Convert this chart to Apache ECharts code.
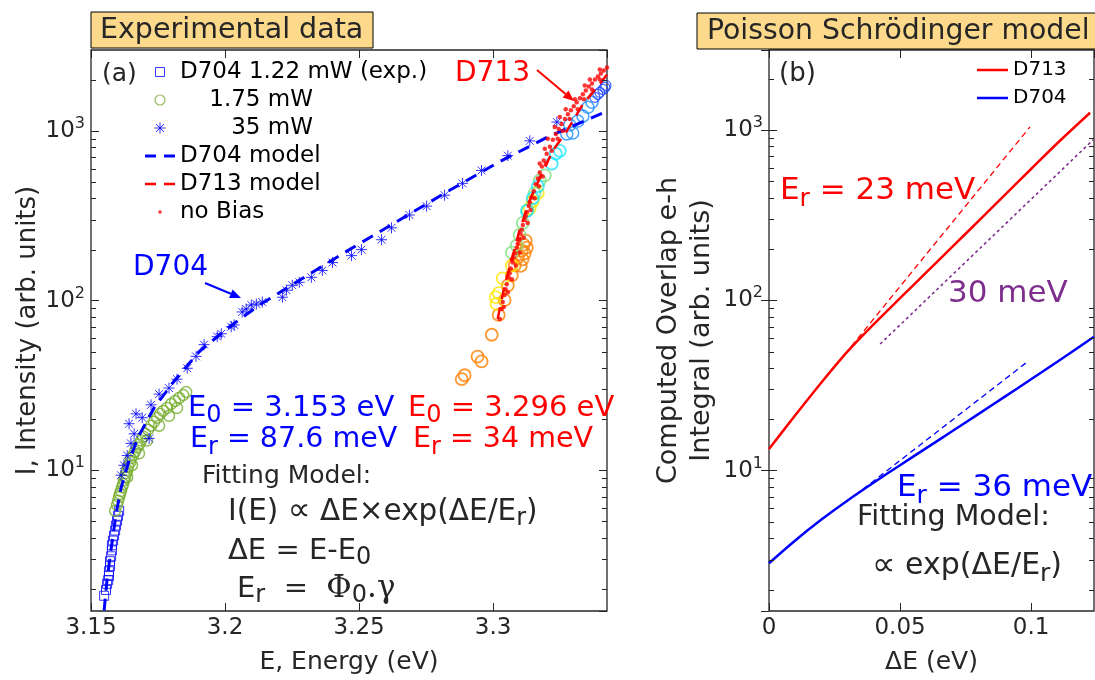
<!DOCTYPE html>
<html>
<head>
<meta charset="utf-8">
<script src="https://cdn.jsdelivr.net/npm/echarts/dist/echarts.min.js"></script>
<style>html,body{margin:0;padding:0;background:#fff}#c{width:1095px;height:680px}</style>
</head>
<body>
<div id="c"></div>
<script>
// ---------------- Panel (a): experimental data ----------------
const d704_122mW = [[3.1549,1.82],[3.1556,1.97],[3.1560,2.14],[3.1564,2.25],[3.1567,2.38],[3.1567,2.54],[3.1571,2.72],[3.1571,2.91],[3.1575,3.11],[3.1578,3.37],[3.1578,3.61],[3.1582,3.85],[3.1586,4.12],[3.1590,4.41],[3.1593,4.72],[3.1597,5.04],[3.1601,5.39],[3.1605,5.77]];
const d704_175mW = [[3.1590,5.77],[3.1597,6.25],[3.1601,6.60],[3.1605,6.96],[3.1608,7.25],[3.1612,7.54],[3.1616,7.96],[3.1620,8.29],[3.1623,8.74],[3.1627,9.10],[3.1631,9.61],[3.1635,10.0],[3.1638,10.55],[3.1646,11.13],[3.1649,11.75],[3.1657,12.23],[3.1664,12.90],[3.1672,13.62],[3.1679,14.18],[3.1687,14.96],[3.1694,15.79],[3.1702,16.43],[3.1713,17.34],[3.1724,18.30],[3.1735,19.31],[3.1747,20.37],[3.1758,21.50],[3.1769,22.38],[3.1784,23.30],[3.1799,24.59],[3.1814,25.60],[3.1829,26.65],[3.1844,27.74],[3.1855,28.89],[3.1635,9.10],[3.1653,10.7],[3.1679,12.57],[3.1709,14.96],[3.1754,18.30],[3.1791,20.93],[3.1821,23.30]];
const d704_35mW = [[3.1612,9.35],[3.1623,10.7],[3.1635,12.2],[3.1649,14.4],[3.1661,16.4],[3.1642,18.8],[3.1668,21.5],[3.1691,20.4],[3.1717,15.4],[3.1724,24.3],[3.1754,28.1],[3.1791,30.5],[3.1821,34.4],[3.1859,39.9],[3.1892,46.9],[3.1922,55.0],[3.1971,61.3],[3.1986,63.8],[3.2023,70.1],[3.2034,71.9],[3.2064,85.7],[3.2079,89.2],[3.2098,94.2],[3.2117,95.4],[3.2139,98.0],[3.2214,104.7],[3.2229,115.1],[3.2251,123.1],[3.2277,128.2],[3.2322,137.1],[3.2363,150.6],[3.2401,167.6],[3.2472,184.1],[3.2509,199.6],[3.2584,228.4],[3.2621,268.4],[3.2688,319.5],[3.2752,360.5],[3.2819,418],[3.2886,491],[3.2957,585],[3.3055,715],[3.3137,874],[3.3238,1128]];
const d704Model = [[3.1549,1.49],[3.1560,2.28],[3.1575,3.42],[3.1593,5.47],[3.1612,7.85],[3.1642,11.4],[3.1679,16.0],[3.1735,23.3],[3.1810,33.5],[3.1904,50.1],[3.2016,70.0],[3.2128,94.1],[3.2277,131.7],[3.2464,199.7],[3.2651,298.6],[3.2838,446.9],[3.3025,659.7],[3.3212,934.6],[3.3425,1308]];
const d713Model = [[3.3017,78],[3.3043,123],[3.3070,175],[3.3099,261],[3.3137,391],[3.3182,561],[3.3223,765],[3.3275,1000],[3.3335,1436],[3.3387,1806],[3.3425,2148]];
const d713NoBias = [[3.3025,78.0],[3.3032,89.2],[3.3036,98.0],[3.3043,107.7],[3.3047,116.7],[3.3051,124.8],[3.3058,137.1],[3.3062,144.7],[3.3066,154.7],[3.3073,167.7],[3.3077,179.3],[3.3081,189.2],[3.3088,205.1],[3.3092,216.4],[3.3096,231.4],[3.3103,247.5],[3.3107,261.2],[3.3111,279.3],[3.3118,298.7],[3.3122,315.2],[3.3126,332.6],[3.3133,360.6],[3.3137,380.4],[3.3144,406.8],[3.3152,440.9],[3.3159,484.3],[3.3167,525.0],[3.3174,569.1],[3.3182,616.8],[3.3189,668.5],[3.3200,734.4],[3.3212,806.7],[3.3223,886.1],[3.3234,960.5],[3.3245,1027],[3.3256,1098],[3.3268,1175],[3.3279,1256],[3.3290,1326],[3.3301,1399],[3.3312,1476],[3.3324,1557],[3.3335,1643],[3.3346,1734],[3.3357,1830],[3.3369,1905],[3.3380,2010],[3.3391,2093],[3.3402,2179],[3.3413,2268],[3.3425,2362],[3.3193,785],[3.3204,898],[3.3230,1055],[3.3249,1207],[3.3271,1343],[3.3305,1537],[3.3342,1854],[3.3361,2010],[3.3398,2299],[3.3099,228.4],[3.3070,174.6],[3.3174,642],[3.3040,91.6],[3.3055,112.1],[3.3070,133.5],[3.3085,161.1],[3.3099,191.8],[3.3114,234.6],[3.3129,286.9],[3.3140,341.7],[3.3155,401],[3.3171,472],[3.3185,539],[3.3197,642],[3.3219,764],[3.3241,898],[3.3260,1000],[3.3286,1175],[3.3316,1343],[3.3339,1537],[3.3369,1757],[3.3398,2010]];
const d713Orange = [[3.2883,34.4],[3.2894,36.3],[3.2942,46.8],[3.2957,43.8],[3.2995,62.9],[3.3021,82.3],[3.3043,100.7],[3.3055,123.1],[3.3070,140.9],[3.3081,161.1],[3.3092,179.3],[3.3107,197.0],[3.3114,213.5],[3.3122,225.4],[3.3126,205],[3.3118,190],[3.3110,175],[3.3103,160]];
const d713Yellow = [[3.3013,95.5],[3.3010,104.8],[3.3021,110.6],[3.3036,135.3],[3.3070,161],[3.3137,351],[3.3148,385],[3.3167,430]];
const d713LightGreen = [[3.3070,191.8],[3.3088,210.7],[3.3099,244.2],[3.3111,286.9],[3.3129,341.7],[3.3155,429.2],[3.3174,511],[3.3193,546.6]];
const d713Cyan = [[3.3126,337],[3.3148,401],[3.3167,472],[3.3219,642],[3.3234,734],[3.3249,764]];
const d713Blue = [[3.3275,960.5],[3.3297,973.5],[3.3286,1084],[3.3316,1144],[3.3335,1223],[3.3354,1380],[3.3369,1476]];
const d713DarkBlue = [[3.3380,1578],[3.3391,1643],[3.3398,1688],[3.3410,1757],[3.3417,1806],[3.3421,1854]];

// ---------------- Panel (b): Poisson Schrodinger model ----------------
const psD713 = [[0,13.4],[0.01,21.1],[0.02,32.9],[0.03,50.1],[0.04,72.4],[0.05,102.8],[0.06,145.5],[0.07,206.1],[0.08,292.4],[0.09,415.0],[0.10,588.8],[0.11,833.7],[0.1225,1259]];
const psD704 = [[0,2.86],[0.01,3.89],[0.02,5.16],[0.03,6.68],[0.04,8.51],[0.05,10.76],[0.06,13.55],[0.07,17.06],[0.08,21.53],[0.09,27.16],[0.10,34.36],[0.11,43.55],[0.124,61.0]];
const psFit23 = [[0.029,48.3],[0.0996,1041]];
const psFit30 = [[0.0424,55.3],[0.1237,874]];
const psFit36 = [[0.0328,7.15],[0.0985,43.4]];

// ---------------- axes / ticks ----------------
const xTicksA = {min: 3.15, max: 3.3425, interval: 0.05};
const xTicksB = {min: 0, max: 0.124, interval: 0.05};
const yRangeA = {min: 1.48, max: 3000};
const yRangeB = {min: 1.5, max: 2940};
const minorTicks = [2,3,4,5,6,7,8,9,20,30,40,50,60,70,80,90,200,300,400,500,600,700,800,900,2000];

const FONT = 'DejaVu Sans';
const AX = '#262626';
const RED = '#ff0000', BLUE = '#0000ff', GREEN = '#77ac30', PURPLE = '#7e2f8e';

const asterisk = 'path://M0,7L14,7M7,0L7,14M2,2L12,12M2,12L12,2';
const iconSquare = 'path://M0,0M14,14M2.5,2.5L11.5,2.5L11.5,11.5L2.5,11.5Z';
const iconCircle = 'path://M0,0M14,14M12,7A5,5,0,1,1,2,7A5,5,0,1,1,12,7Z';
const iconAst = 'path://M0,0M14,14M1.5,7L12.5,7M7,1.5L7,12.5M3,3L11,11M3,11L11,3';
const iconDot = 'path://M0,0M14,14M8.8,7A1.8,1.8,0,1,1,5.2,7A1.8,1.8,0,1,1,8.8,7Z';
const iconDash3 = 'path://M0,0M30,14M0,5.5L11,5.5L11,8.5L0,8.5ZM19,5.5L30,5.5L30,8.5L19,8.5Z';
const iconDash25 = 'path://M0,0M30,14M0,5.75L11,5.75L11,8.25L0,8.25ZM19,5.75L30,5.75L30,8.25L19,8.25Z';
const iconSolid = 'path://M0,0M31,14M0,5.75L31,5.75L31,8.25L0,8.25Z';

function logFmt(v){
  const l = Math.log10(v), e = Math.round(l);
  return Math.abs(l - e) < 1e-6 ? '10{s|' + e + '}' : '';
}
const yLabel = {
  show: true, fontSize: 23, color: AX, fontFamily: FONT, margin: 6, lineHeight: 30,
  formatter: logFmt, showMinLabel: false, showMaxLabel: false,
  rich: {s: {fontSize: 16, lineHeight: 14, verticalAlign: 'top', color: AX, fontFamily: FONT}}
};
const tickIn = {show: true, inside: true, length: 8, lineStyle: {color: AX, width: 1}};

function xAx(grid, r, pos, extra){
  return Object.assign({
    type: 'value', gridIndex: grid, position: pos, min: r.min, max: r.max, interval: r.interval,
    axisLine: {show: false}, axisTick: tickIn, splitLine: {show: false},
    axisLabel: pos === 'bottom' ? {fontSize: 23, color: AX, fontFamily: FONT, margin: 6, showMaxLabel: false} : {show: false}
  }, extra || {});
}
function yAx(grid, r, pos, extra){
  return Object.assign({
    type: 'log', logBase: 10, gridIndex: grid, position: pos, min: r.min, max: r.max,
    axisLine: {show: false}, axisTick: tickIn, splitLine: {show: false}, minorTick: {show: false},
    axisLabel: pos === 'left' ? yLabel : {show: false}
  }, extra || {});
}

function openCircles(name, data, color, size, lw){
  return {type: 'scatter', name, data, xAxisIndex: 0, yAxisIndex: 0, symbol: 'circle', symbolSize: size,
    itemStyle: {color: 'transparent', borderColor: color, borderWidth: lw}, silent: true};
}

function rt(x, y, text, size, color, subSize, subDrop){
  const lh = 2 * (subDrop + 7);
  return {type: 'text', x, y, silent: true, z: 50, style: {
    text, fontSize: size, fontFamily: FONT, fill: color, align: 'left', verticalAlign: 'middle', lineHeight: lh,
    rich: {
      s: {fontSize: subSize, fontFamily: FONT, fill: color, color: color, lineHeight: 14, verticalAlign: 'bottom'},
      p: {fontSize: Math.round(size * 1.1), fontFamily: FONT, fill: color, color: color, lineHeight: lh},
      f: {fontSize: size + 2, fontFamily: 'DejaVu Serif', fill: color, color: color, lineHeight: lh}
    }
  }};
}
function arrow(x1, y1, x2, y2, color){
  const dx = x2 - x1, dy = y2 - y1, L = Math.hypot(dx, dy), ux = dx / L, uy = dy / L;
  const bx = x2 - 11 * ux, by = y2 - 11 * uy, px = -uy * 4.5, py = ux * 4.5;
  return {type: 'group', silent: true, z: 50, children: [
    {type: 'line', shape: {x1, y1, x2: bx, y2: by}, style: {stroke: color, lineWidth: 2}},
    {type: 'polygon', shape: {points: [[x2, y2], [bx + px, by + py], [bx - px, by - py]]}, style: {fill: color}}
  ]};
}

const annotations = [
  {type: 'rect', shape: {x: 91, y: 12, width: 282, height: 36}, style: {fill: '#fdd98c', stroke: '#000', lineWidth: 1}, z: 40, silent: true},
  {type: 'text', x: 100, y: 31, z: 41, silent: true, style: {text: 'Experimental data', fontSize: 28.5, fontFamily: FONT, fill: AX, verticalAlign: 'middle'}},
  {type: 'rect', shape: {x: 697, y: 13, width: 410, height: 36}, style: {fill: '#fdd98c', stroke: '#000', lineWidth: 1}, z: 40, silent: true},
  {type: 'text', x: 707, y: 32, z: 41, silent: true, style: {text: 'Poisson Schrödinger model', fontSize: 28.3, fontFamily: FONT, fill: AX, verticalAlign: 'middle'}},
  rt(102, 74, '(a)', 25, AX, 20, 12),
  rt(779, 74, '(b)', 26, AX, 20, 12),
  rt(455, 74, 'D713', 28, RED, 22, 12),
  arrow(537, 70, 574, 101, RED),
  rt(133, 268, 'D704', 28, BLUE, 22, 12),
  arrow(205, 283, 241, 298, BLUE),
  rt(188, 408, 'E{s|0} = 3.153 eV', 29, BLUE, 24, 13),
  rt(190, 440, 'E{s|r} = 87.6 meV', 28.5, BLUE, 24, 13),
  rt(408, 408, 'E{s|0} = 3.296 eV', 29, RED, 24, 13),
  rt(413, 440, 'E{s|r} = 34 meV', 28.5, RED, 24, 13),
  rt(202, 476, 'Fitting Model:', 25, AX, 20, 12),
  rt(228, 512, 'I(E) {p|∝} ΔE×exp(ΔE/E{s|r})', 29.5, AX, 24, 12),
  rt(228, 551, 'ΔE = E-E{s|0}', 29, AX, 24, 12),
  rt(237, 589, 'E{s|r}  =  {f|Φ}{s|0}{f|.γ}', 29, AX, 24, 12),
  rt(780, 191, 'E{s|r} = 23 meV', 31, RED, 25, 14),
  rt(948, 294, '30 meV', 31, PURPLE, 25, 14),
  rt(897, 488, 'E{s|r} = 36 meV', 31, BLUE, 25, 14),
  rt(857, 518, 'Fitting Model:', 28.5, AX, 22, 13),
  rt(872, 566, '{p|∝} exp(ΔE/E{s|r})', 30, AX, 25, 14)
];

const chart = echarts.init(document.getElementById('c'), null, {renderer: 'canvas'});
const option = {
  animation: false,
  backgroundColor: '#fff',
  textStyle: {fontFamily: FONT},
  grid: [
    {left: 91, top: 50, width: 516, height: 567, show: true, borderColor: AX, borderWidth: 1.3, backgroundColor: 'transparent', containLabel: false},
    {left: 769, top: 50, width: 325, height: 563, show: true, borderColor: AX, borderWidth: 1.3, backgroundColor: 'transparent', containLabel: false}
  ],
  xAxis: [
    xAx(0, xTicksA, 'bottom', {name: 'E, Energy (eV)', nameLocation: 'middle', nameGap: 39, nameTextStyle: {fontSize: 25, color: AX, fontFamily: FONT}}),
    xAx(0, xTicksA, 'top'),
    xAx(1, xTicksB, 'bottom', {name: 'ΔE (eV)', nameLocation: 'middle', nameGap: 39, nameTextStyle: {fontSize: 25, color: AX, fontFamily: FONT}}),
    xAx(1, xTicksB, 'top')
  ],
  yAxis: [
    yAx(0, yRangeA, 'left', {name: 'I, Intensity (arb. units)', nameLocation: 'middle', nameGap: 48, nameTextStyle: {fontSize: 26, color: AX, fontFamily: FONT}}),
    yAx(0, yRangeA, 'right'),
    yAx(1, yRangeB, 'left', {name: 'Computed Overlap e-h\nIntegral (arb. units)', nameLocation: 'middle', nameGap: 51, nameTextStyle: {fontSize: 27, color: AX, fontFamily: FONT, lineHeight: 33}}),
    yAx(1, yRangeB, 'right')
  ],
  legend: [
    {
      orient: 'vertical', left: 145, top: 58, itemWidth: 30, itemHeight: 14, itemGap: 0, padding: 0,
      selectedMode: false, textStyle: {fontSize: 23, color: '#000', fontFamily: FONT, lineHeight: 28},
      data: [
        {name: 'D704 1.22 mW (exp.)', icon: iconSquare, itemStyle: {color: 'transparent', borderColor: BLUE, borderWidth: 1}},
        {name: '    1.75 mW', icon: iconCircle, itemStyle: {color: 'transparent', borderColor: GREEN, borderWidth: 1.2}},
        {name: '       35 mW', icon: iconAst, itemStyle: {color: 'transparent', borderColor: BLUE, borderWidth: 1}},
        {name: 'D704 model', icon: iconDash3, itemStyle: {color: BLUE, borderWidth: 0}},
        {name: 'D713 model', icon: iconDash25, itemStyle: {color: RED, borderWidth: 0}},
        {name: 'no Bias', icon: iconDot, itemStyle: {color: RED, borderWidth: 0}}
      ]
    },
    {
      orient: 'vertical', left: 977, top: 56, itemWidth: 31, itemHeight: 14, itemGap: 0, padding: 0,
      selectedMode: false, textStyle: {fontSize: 20, color: '#000', fontFamily: FONT, lineHeight: 28},
      data: [
        {name: 'D713', icon: iconSolid, itemStyle: {color: RED, borderWidth: 0}},
        {name: 'D704', icon: iconSolid, itemStyle: {color: BLUE, borderWidth: 0}}
      ]
    }
  ],
  series: [
    openCircles('o1', d713Orange, '#ff8000', 12, 1.8),
    openCircles('o2', d713Yellow, '#ffe600', 12, 1.8),
    openCircles('o3', d713LightGreen, '#80e080', 12, 1.8),
    openCircles('o4', d713Cyan, '#19e6ff', 12, 1.8),
    openCircles('o5', d713Blue, '#1a8cff', 12, 1.5),
    openCircles('o6', d713DarkBlue, '#1a40ff', 10, 1.2),
    {type: 'scatter', name: 'D704 1.22 mW (exp.)', data: d704_122mW, symbol: 'rect', symbolSize: 9,
      itemStyle: {color: 'transparent', borderColor: BLUE, borderWidth: 1}, silent: true},
    openCircles('    1.75 mW', d704_175mW, GREEN, 11, 1.5),
    {type: 'scatter', name: '       35 mW', data: d704_35mW, symbol: asterisk, symbolSize: 11,
      itemStyle: {color: 'transparent', borderColor: BLUE, borderWidth: 1}, silent: true},
    {type: 'line', name: 'D704 model', data: d704Model, symbol: 'none', smooth: false,
      lineStyle: {color: BLUE, width: 3, type: [12, 8]}, itemStyle: {color: BLUE}, silent: true, z: 3},
    {type: 'line', name: 'D713 model', data: d713Model, symbol: 'none',
      lineStyle: {color: RED, width: 2.5, type: [12, 8]}, itemStyle: {color: RED}, silent: true, z: 3},
    {type: 'scatter', name: 'no Bias', data: d713NoBias, symbol: 'circle', symbolSize: 4.5,
      itemStyle: {color: RED}, silent: true, z: 4},
    {type: 'line', name: 'D713', xAxisIndex: 2, yAxisIndex: 2, data: psD713, symbol: 'none', smooth: 0.3,
      lineStyle: {color: RED, width: 2.5}, itemStyle: {color: RED}, silent: true},
    {type: 'line', name: 'D704', xAxisIndex: 2, yAxisIndex: 2, data: psD704, symbol: 'none', smooth: 0.3,
      lineStyle: {color: BLUE, width: 2.5}, itemStyle: {color: BLUE}, silent: true},
    {type: 'line', name: 'fit23', xAxisIndex: 2, yAxisIndex: 2, data: psFit23, symbol: 'none',
      lineStyle: {color: RED, width: 1.3, type: [6, 4]}, silent: true},
    {type: 'line', name: 'fit30', xAxisIndex: 2, yAxisIndex: 2, data: psFit30, symbol: 'none',
      lineStyle: {color: PURPLE, width: 1.6, type: [3, 3]}, silent: true},
    {type: 'line', name: 'fit36', xAxisIndex: 2, yAxisIndex: 2, data: psFit36, symbol: 'none',
      lineStyle: {color: BLUE, width: 1.3, type: [6, 4]}, silent: true}
  ],
  graphic: annotations
};
chart.setOption(option);

// minor log ticks (2..9 x 10^n), placed through the axes' own scales
function minorTickEls(xi, yi, xr){
  const els = [];
  minorTicks.forEach(function(v){
    const p = chart.convertToPixel({xAxisIndex: xi, yAxisIndex: yi}, [xr.min, v]);
    const q = chart.convertToPixel({xAxisIndex: xi, yAxisIndex: yi}, [xr.max, v]);
    if (!p || !q) return;
    const yp = Math.round(p[1]) + 0.5, yq = Math.round(q[1]) + 0.5;
    els.push({type: 'line', silent: true, z: 45, shape: {x1: p[0], y1: yp, x2: p[0] + 5, y2: yp}, style: {stroke: AX, lineWidth: 1}});
    els.push({type: 'line', silent: true, z: 45, shape: {x1: q[0] - 5, y1: yq, x2: q[0], y2: yq}, style: {stroke: AX, lineWidth: 1}});
  });
  return els;
}
chart.setOption({graphic: annotations.concat(minorTickEls(0, 0, xTicksA), minorTickEls(2, 2, xTicksB))});
</script>
</body>
</html>
